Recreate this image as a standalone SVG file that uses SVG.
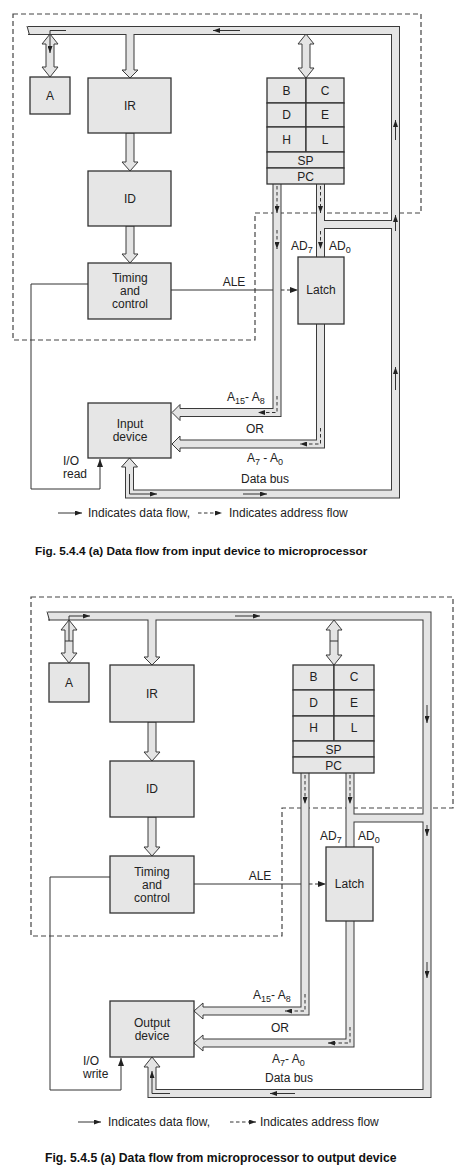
<svg xmlns="http://www.w3.org/2000/svg" width="474" height="1174" viewBox="0 0 474 1174">
<defs>
<style>
.box{fill:#e6e6e6;stroke:#333;stroke-width:1.3}
.t{font-family:"Liberation Sans",Arial,sans-serif;font-size:12px;fill:#222;text-anchor:middle}
.s{font-family:"Liberation Sans",Arial,sans-serif;font-size:12px;fill:#222}
.cap{font-family:"Liberation Sans",Arial,sans-serif;font-weight:bold;fill:#111}
.bo{fill:none;stroke:#3a3a3a;stroke-width:9;stroke-linejoin:miter}
.bi{fill:none;stroke:#e4e4e4;stroke-width:7;stroke-linejoin:miter}
.hd{fill:#e4e4e4;stroke:#3a3a3a;stroke-width:1;stroke-linejoin:miter}
.ln{fill:none;stroke:#333;stroke-width:1}
.da{fill:none;stroke:#333;stroke-width:1;stroke-dasharray:3.5,2.5}
.rg{fill:none;stroke:#444;stroke-width:1.2;stroke-dasharray:5,3}
</style>
<marker id="ah" viewBox="0 0 8 6" refX="8" refY="3" markerWidth="8" markerHeight="6" markerUnits="userSpaceOnUse" orient="auto"><path d="M0,0 L8,3 L0,6 z" fill="#222"/></marker>
<marker id="as" viewBox="0 0 7 5" refX="7" refY="2.5" markerWidth="7" markerHeight="5" markerUnits="userSpaceOnUse" orient="auto"><path d="M0,0 L7,2.5 L0,5 z" fill="#222"/></marker>
</defs>
<rect width="474" height="1174" fill="#fff"/>

<!-- ===== TOP DIAGRAM ===== -->
<g id="top-regions">
<path class="rg" d="M13,14 H421 V213 H255 V340 H13 Z"/>
</g>
<g id="top-connectors">
<path class="ln" d="M88,284 H31 V489 H100 V459" marker-end="url(#ah)"/>
<path class="ln" d="M171,290 H281"/>
<path class="da" d="M281,290 H298" marker-end="url(#ah)"/>
<g>
<path class="bo" d="M28,30.5 H395.5 V494 H129.5 V467 M130,30.5 V70 M277,184 V412.5 H180 M320.5,184 V257 M320.5,224.5 H395.5 M320.5,324 V444 H180"/>
<path class="bi" d="M28,30.5 H395.5 V494 H129.5 V467 M130,30.5 V70 M277,184 V412.5 H180 M320.5,184 V257 M320.5,224.5 H395.5 M320.5,324 V444 H180"/>
<path class="ln" d="M27,26 L29.5,35"/>
<path class="hd" d="M126,70 H122 L130,78 L138,70 H134"/>
<path class="hd" d="M180,408.5 V404.5 L172,412.5 L180,420.5 V416.5"/>
<path class="hd" d="M180,440 V436 L172,444 L180,452 V448"/>
<path class="hd" d="M125.5,467 H121.5 L129.5,458 L137.5,467 H133.5"/>
</g>
<polygon class="hd" points="50,34 58,44 54,44 54,67 58,67 50,77 42,67 46,67 46,44 42,44"/>
<polygon class="hd" points="306,34 314,44 310,44 310,68 314,68 306,78 298,68 302,68 302,44 298,44"/>
<polygon class="hd" points="126,133 126,162 122,162 130,171 138,162 134,162 134,133"/>
<polygon class="hd" points="126,226 126,254 122,254 130,263 138,254 134,254 134,226"/>
<!-- data flow arrows -->
<path class="ln" d="M240,30.5 H213" marker-end="url(#as)"/>
<path class="ln" d="M66,30.5 H50 V53" marker-end="url(#as)"/>
<path class="ln" d="M395.5,140 V120" marker-end="url(#as)"/>
<path class="ln" d="M395.5,231 V215" marker-end="url(#as)"/>
<path class="ln" d="M395.5,390 V367" marker-end="url(#as)"/>
<path class="ln" d="M243,494 H267" marker-end="url(#as)"/>
<path class="ln" d="M129.5,474 V494 H157" marker-end="url(#as)"/>
<!-- address flow arrows -->
<path class="da" d="M277,186 V213" marker-end="url(#as)"/>
<path class="da" d="M277,230 V249" marker-end="url(#as)"/>
<path class="da" d="M277,396 V412.5 H258" marker-end="url(#as)"/>
<path class="da" d="M320.5,186 V213" marker-end="url(#as)"/>
<path class="da" d="M320.5,231 V249" marker-end="url(#as)"/>
<path class="da" d="M320.5,428 V444 H300" marker-end="url(#as)"/>
</g>
<g id="top-A"><rect class="box" x="30" y="77" width="40" height="37"/><text class="t" x="50" y="100">A</text></g>
<g id="top-IR"><rect class="box" x="88" y="78" width="83" height="55"/><text class="t" x="130" y="110">IR</text></g>
<g id="top-ID"><rect class="box" x="88" y="171" width="83" height="55"/><text class="t" x="130" y="203">ID</text></g>
<g id="top-timing"><rect class="box" x="88" y="263" width="83" height="56"/><text class="t" x="130" y="282">Timing</text><text class="t" x="130" y="295">and</text><text class="t" x="130" y="308">control</text></g>
<g id="top-input"><rect class="box" x="88" y="403" width="83" height="55"/><text class="t" x="130" y="428">Input</text><text class="t" x="130" y="441">device</text></g>
<g id="top-latch"><rect class="box" x="298" y="257" width="46" height="67"/><text class="t" x="321" y="294">Latch</text></g>
<g id="top-registers">
<rect class="box" x="267" y="78" width="39" height="25"/><rect class="box" x="306" y="78" width="38" height="25"/>
<rect class="box" x="267" y="103" width="39" height="24"/><rect class="box" x="306" y="103" width="38" height="24"/>
<rect class="box" x="267" y="127" width="39" height="25"/><rect class="box" x="306" y="127" width="38" height="25"/>
<rect class="box" x="267" y="152" width="77" height="16"/><rect class="box" x="267" y="168" width="77" height="16"/>
<text class="t" x="286.5" y="95">B</text><text class="t" x="325" y="95">C</text>
<text class="t" x="286.5" y="119">D</text><text class="t" x="325" y="119">E</text>
<text class="t" x="286.5" y="144">H</text><text class="t" x="325" y="144">L</text>
<text class="t" x="305.5" y="164.5">SP</text><text class="t" x="305.5" y="180.5">PC</text>
</g>
<g id="top-labels">
<text class="t" x="234" y="286">ALE</text>
<text class="s" x="291" y="250">AD<tspan dy="3" font-size="9">7</tspan></text>
<text class="s" x="329" y="250">AD<tspan dy="3" font-size="9">0</tspan></text>
<text class="s" x="227" y="401">A<tspan dy="3" font-size="9">15</tspan><tspan dy="-3">- A</tspan><tspan dy="3" font-size="9">8</tspan></text>
<text class="t" x="255" y="433">OR</text>
<text class="s" x="247" y="462">A<tspan dy="3" font-size="9">7</tspan><tspan dy="-3"> - A</tspan><tspan dy="3" font-size="9">0</tspan></text>
<text class="t" x="265" y="483">Data bus</text>
<text class="s" x="63" y="465">I/O</text><text class="s" x="63" y="478">read</text>
</g>
<g id="top-legend">
<path class="ln" d="M58,513 H82" marker-end="url(#as)"/>
<text class="s" x="88" y="517" font-size="11.5">Indicates data flow,</text>
<path class="da" d="M198,513 H222" marker-end="url(#as)"/>
<text class="s" x="229" y="517" font-size="11.5">Indicates address flow</text>
<text class="cap" x="35" y="555" font-size="11.8">Fig. 5.4.4 (a) Data flow from input device to microprocessor</text>
</g>

<!-- ===== BOTTOM DIAGRAM ===== -->
<g id="bot-regions">
<path class="rg" d="M31,597 H453 V808 H282 V936 H31 Z"/>
</g>
<g id="bot-connectors">
<path class="ln" d="M110,877 H50 V1090 H121 V1058" marker-end="url(#ah)"/>
<path class="ln" d="M194,884 H309"/>
<path class="da" d="M309,884 H326" marker-end="url(#ah)"/>
<g>
<path class="bo" d="M48,616 H427 V1093.5 H152 V1067 M152,616 V657 M305,773 V1011 H203 M350,773 V847 M350,818 H427 M350,921 V1043 H203"/>
<path class="bi" d="M48,616 H427 V1093.5 H152 V1067 M152,616 V657 M305,773 V1011 H203 M350,773 V847 M350,818 H427 M350,921 V1043 H203"/>
<path class="ln" d="M47,611.5 L49.5,620.5"/>
<path class="hd" d="M148,657 H144 L152,665 L160,657 H156"/>
<path class="hd" d="M203,1007 V1003 L194,1011 L203,1019 V1015"/>
<path class="hd" d="M203,1039 V1035 L194,1043 L203,1051 V1047"/>
<path class="hd" d="M148,1067 H144 L152,1057 L160,1067 H156"/>
</g>
<polygon class="hd" points="69,620 77,630 73,630 73,653 77,653 69,663 61,653 65,653 65,630 61,630"/>
<path class="ln" d="M65,641 H73"/>
<polygon class="hd" points="334,620 342,630 338,630 338,655 342,655 334,665 326,655 330,655 330,630 326,630"/>
<path class="ln" d="M330,641 H338"/>
<polygon class="hd" points="148,722 148,752 144,752 152,761 160,752 156,752 156,722"/>
<polygon class="hd" points="148,817 148,847 144,847 152,856 160,847 156,847 156,817"/>
<!-- data flow arrows -->
<path class="ln" d="M69,641 V616 H90" marker-end="url(#as)"/>
<path class="ln" d="M235,616 H260" marker-end="url(#as)"/>
<path class="ln" d="M427,705 V723" marker-end="url(#as)"/>
<path class="ln" d="M427,825 V836" marker-end="url(#as)"/>
<path class="ln" d="M427,962 V978" marker-end="url(#as)"/>
<path class="ln" d="M295,1093.5 H270" marker-end="url(#as)"/>
<path class="ln" d="M170,1093.5 H152 V1071" marker-end="url(#as)"/>
<!-- address flow arrows -->
<path class="da" d="M305,775 V804" marker-end="url(#as)"/>
<path class="da" d="M305,994 V1011 H285" marker-end="url(#as)"/>
<path class="da" d="M350,775 V804" marker-end="url(#as)"/>
<path class="da" d="M350,1027 V1043 H328" marker-end="url(#as)"/>
</g>
<g id="bot-A"><rect class="box" x="49" y="663" width="40" height="39"/><text class="t" x="69" y="687">A</text></g>
<g id="bot-IR"><rect class="box" x="110" y="665" width="84" height="57"/><text class="t" x="152" y="698">IR</text></g>
<g id="bot-ID"><rect class="box" x="110" y="761" width="84" height="56"/><text class="t" x="152" y="793">ID</text></g>
<g id="bot-timing"><rect class="box" x="110" y="856" width="84" height="57"/><text class="t" x="152" y="876">Timing</text><text class="t" x="152" y="889">and</text><text class="t" x="152" y="902">control</text></g>
<g id="bot-output"><rect class="box" x="110" y="1001" width="84" height="56"/><text class="t" x="152" y="1027">Output</text><text class="t" x="152" y="1040">device</text></g>
<g id="bot-latch"><rect class="box" x="326" y="847" width="47" height="74"/><text class="t" x="349.5" y="888">Latch</text></g>
<g id="bot-registers">
<rect class="box" x="293" y="665" width="41" height="25"/><rect class="box" x="334" y="665" width="40" height="25"/>
<rect class="box" x="293" y="690" width="41" height="26"/><rect class="box" x="334" y="690" width="40" height="26"/>
<rect class="box" x="293" y="716" width="41" height="25"/><rect class="box" x="334" y="716" width="40" height="25"/>
<rect class="box" x="293" y="741" width="81" height="16"/><rect class="box" x="293" y="757" width="81" height="16"/>
<text class="t" x="313.5" y="681">B</text><text class="t" x="354" y="681">C</text>
<text class="t" x="313.5" y="707">D</text><text class="t" x="354" y="707">E</text>
<text class="t" x="313.5" y="732">H</text><text class="t" x="354" y="732">L</text>
<text class="t" x="333.5" y="753.5">SP</text><text class="t" x="333.5" y="769.5">PC</text>
</g>
<g id="bot-labels">
<text class="t" x="260" y="880">ALE</text>
<text class="s" x="320" y="840">AD<tspan dy="3" font-size="9">7</tspan></text>
<text class="s" x="358" y="840">AD<tspan dy="3" font-size="9">0</tspan></text>
<text class="s" x="253" y="999">A<tspan dy="3" font-size="9">15</tspan><tspan dy="-3">- A</tspan><tspan dy="3" font-size="9">8</tspan></text>
<text class="t" x="280" y="1032">OR</text>
<text class="s" x="272" y="1063">A<tspan dy="3" font-size="9">7</tspan><tspan dy="-3">- A</tspan><tspan dy="3" font-size="9">0</tspan></text>
<text class="t" x="289" y="1082">Data bus</text>
<text class="s" x="83" y="1065">I/O</text><text class="s" x="83" y="1078">write</text>
</g>
<g id="bot-legend">
<path class="ln" d="M78,1122 H101" marker-end="url(#as)"/>
<text class="s" x="108" y="1126">Indicates data flow,</text>
<path class="da" d="M230,1122 H256" marker-end="url(#as)"/>
<text class="s" x="260" y="1126">Indicates address flow</text>
<text class="cap" x="45" y="1162" font-size="12.2">Fig. 5.4.5 (a) Data flow from microprocessor to output device</text>
</g>
</svg>
